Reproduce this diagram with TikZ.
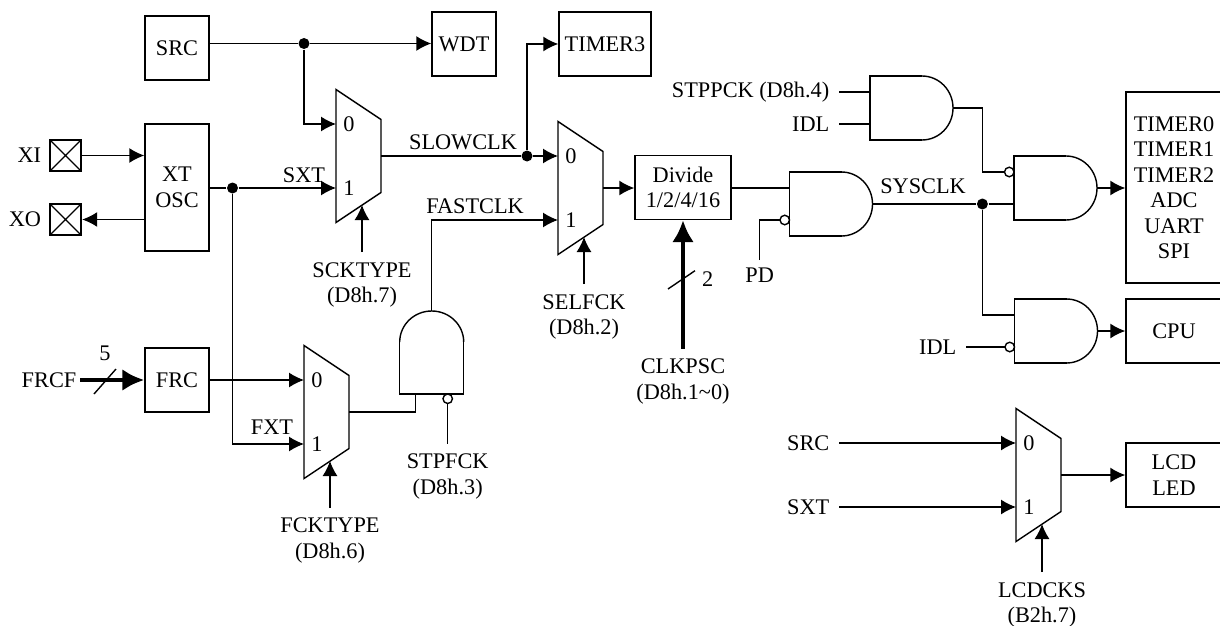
\documentclass[tikz,border=0pt]{standalone}
\usepackage{fontspec}
\setmainfont{Liberation Serif}
\usetikzlibrary{arrows.meta,positioning,calc}

\begin{document}
\begin{tikzpicture}[
    x=1pt, y=-1pt, line width=1.4pt,
    font=\fontsize{22.3}{25.5}\selectfont,
    sig/.style={inner xsep=8pt, inner ysep=0pt, align=center},
    sellabel/.style={sig, anchor=north, inner ysep=9.6pt},
    box/.style={draw, minimum width=64, minimum height=64, inner sep=0pt, align=center},
    widebox/.style={box, minimum width=96},
    pad/.style={draw, line width=2.4pt, minimum size=31, inner sep=0pt,
      path picture={\draw[line width=1.4pt] (path picture bounding box.north west) -- (path picture bounding box.south east)
        (path picture bounding box.north east) -- (path picture bounding box.south west);}},
    dot/.style={circle, fill=black, inner sep=0pt, minimum size=11},
    bubble/.style={circle, draw, fill=white, inner sep=0pt, outer sep=0pt, minimum size=9.5},
    arrow/.style={-{Latex[length=15pt,width=15pt]}},
    bus/.style={-{Latex[length=22pt,width=22pt]}, line width=4.8pt},
    mux/.pic={
      \draw (0,-66.5) -- (45,-36.5) -- (45,36.5) -- (0,66.5) -- cycle;
      \coordinate (-in0) at (0,-32);
      \coordinate (-in1) at (0,32);
      \coordinate (-out) at (45,0);
      \coordinate (-sel) at (26,49);
      \node[sig, inner xsep=0pt] (-zero) at (13,-32) {0};
      \node[sig, inner xsep=0pt] (-one) at (13,32) {1};
    },
    andgate/.pic={
      \draw (52,32) -- (0,32) -- (0,-32) -- (52,-32);
      \draw (52,32) arc (-90:90:31pt and 32pt);
      \coordinate (-a) at (0,-16);
      \coordinate (-b) at (0,16);
      \coordinate (-out) at (83,0);
    }
  ]
    \useasboundingbox (0,0) rectangle (1220,626);

    % pads and sources
    \node[pad] (xipad) at (65.5,155.5) {};
    \node[pad] (xopad) at (65.5,219.5) {};
    \node[sig, left=0pt of xipad, inner xsep=7pt] (xilabel) {XI};
    \node[sig, left=0pt of xopad, inner xsep=7pt] (xolabel) {XO};
    \node[box, minimum height=127] (xtosc) at (177,187.5) {XT\\OSC};
    \node[box] (frc) at (177,380) {FRC};
    \node[box] (src) at (177,48) {SRC};
    \node[box] (wdt) at (464,44) {WDT};
    \node[box, minimum width=92] (timer3) at (605,44) {TIMER3};
    \node[sig, anchor=east, inner xsep=3pt] (frcf) at (80,380) {FRCF};
    \node[sig] (frcwidth) at (105,353) {5};

    % multiplexers
    \pic (m1) at (336,156) {mux};
    \pic (m2) at (558,188) {mux};
    \pic (m3) at (304,412) {mux};
    \pic (m4) at (1016,475) {mux};
    \node[sellabel] (scktype) at (362,252) {SCKTYPE\\(D8h.7)};
    \node[sellabel] (selfck) at (584,284) {SELFCK\\(D8h.2)};
    \node[sellabel] (fcktype) at (330,507.7) {FCKTYPE\\(D8h.6)};
    \node[sellabel] (lcdcks) at (1042,572) {LCDCKS\\(B2h.7)};

    % gates
    \pic (gfast) [rotate=90] at (431.7,394) {andgate};
    \pic (gsys) at (789.5,204) {andgate};
    \pic (gstop) at (870,108) {andgate};
    \pic (gperi) at (1014,188) {andgate};
    \pic (gcpu) at (1014.5,331) {andgate};
    \node[bubble, below=0pt of gfast-b] (bfast) {};
    \node[bubble, left=0pt of gsys-b] (bsys) {};
    \node[bubble, left=0pt of gperi-a] (bperi) {};
    \node[bubble, left=0pt of gcpu-b] (bcpu) {};

    % outputs and dividers
    \node[widebox] (divide) at (683,187.5) {Divide\\1/2/4/16};
    \node[widebox, minimum height=191] (periph) at (1174,187.5) {TIMER0\\TIMER1\\TIMER2\\ADC\\UART\\SPI};
    \node[widebox] (cpu) at (1174,331) {CPU};
    \node[widebox] (lcd) at (1174,475) {LCD\\LED};

    % junctions
    \node[dot] (srcdot) at (304,43.5) {};
    \node[dot] (sxtdot) at (232.5,188) {};
    \node[dot] (slowdot) at (527,156) {};
    \node[dot] (sysdot) at (982.4,204) {};

    % signal names
    \node[sig, inner xsep=0pt] (sxtname) at (304,175) {SXT};
    \node[sig, inner xsep=0pt] (slowname) at (463,142.7) {SLOWCLK};
    \node[sig, inner xsep=0pt] (fastname) at (475,206.7) {FASTCLK};
    \node[sig, inner xsep=0pt] (fxtname) at (272,426.7) {FXT};
    \node[sig, inner xsep=0pt] (sysname) at (923,186.7) {SYSCLK};
    \node[sellabel] (stpfck) at (447.7,443.7) {STPFCK\\(D8h.3)};
    \node[sig, anchor=north, inner ysep=7.6pt] (pd) at (759.7,260) {PD};
    \node[sellabel] (clkpsc) at (683,348.7) {CLKPSC\\(D8h.1\textasciitilde 0)};
    \node[sig, anchor=east, inner xsep=9pt] (stppck) at (839,92) {STPPCK (D8h.4)};
    \node[sig, anchor=east, inner xsep=9pt] (idltop) at (839,124) {IDL};
    \node[sig, anchor=east, inner xsep=9pt] (idlcpu) at (966,347) {IDL};
    \node[sig, anchor=east, inner xsep=9pt] (srcin) at (839,443) {SRC};
    \node[sig, anchor=east, inner xsep=9pt] (sxtin) at (839,507) {SXT};
    \node[sig] (divwidth) at (707.7,279) {2};

    % connectors
    \draw[arrow] (xipad.east) -- (xipad.east -| xtosc.west);
    \draw[arrow] (xopad.east -| xtosc.west) -- (xopad.east);
    \draw (src.east |- srcdot) -- (srcdot);
    \draw[arrow] (srcdot) -- (srcdot -| wdt.west);
    \draw[arrow] (srcdot) |- (m1-in0);
    \draw (xtosc.east |- sxtdot) -- (sxtdot);
    \draw[arrow] (sxtdot) -- (m1-in1);
    \draw[arrow] (sxtdot) |- (m3-in1);
    \draw[arrow] (frc.east) -- (m3-in0);
    \draw[bus] (frcf.east) -- (frc.west);
    \draw (m1-out) -- (slowdot);
    \draw[arrow] (slowdot) -- (m2-in0);
    \draw[arrow] (slowdot) |- (timer3.west);
    \draw (m3-out) -| (gfast-a);
    \draw[arrow] (gfast-out) |- (m2-in1);
    \draw (stpfck.north) -- (bfast.south);
    \draw[arrow] (scktype.north) -- (m1-sel);
    \draw[arrow] (selfck.north) -- (m2-sel);
    \draw[arrow] (fcktype.north) -- (m3-sel);
    \draw[arrow] (lcdcks.north) -- (m4-sel);
    \draw[arrow] (m2-out) -- (m2-out -| divide.west);
    \draw[bus] (clkpsc.north) -- (divide.south);
    \draw (gsys-a -| divide.east) -- (gsys-a);
    \draw (pd.north) |- (bsys.west);
    \draw (gsys-out) -- (sysdot);
    \draw (sysdot) -- (gperi-b);
    \draw (sysdot) |- (gcpu-a);
    \draw (stppck.east) -- (gstop-a);
    \draw (idltop.east) -- (gstop-b);
    \draw (gstop-out) -- (gstop-out -| sysdot) |- (bperi.west);
    \draw[arrow] (gperi-out) -- (gperi-out -| periph.west);
    \draw[arrow] (gcpu-out) -- (cpu.west);
    \draw (idlcpu.east) -- (bcpu.west);
    \draw[arrow] (srcin.east) -- (m4-in0);
    \draw[arrow] (sxtin.east) -- (m4-in1);
    \draw[arrow] (m4-out) -- (lcd.west);

    % bus width marks
    \coordinate (frcmarka) at (94,394);
    \coordinate (frcmarkb) at (116,369);
    \coordinate (divmarka) at (668,289);
    \coordinate (divmarkb) at (695,270.7);
    \draw (frcmarka) -- (frcmarkb);
    \draw (divmarka) -- (divmarkb);
  \end{tikzpicture}
\end{document}
